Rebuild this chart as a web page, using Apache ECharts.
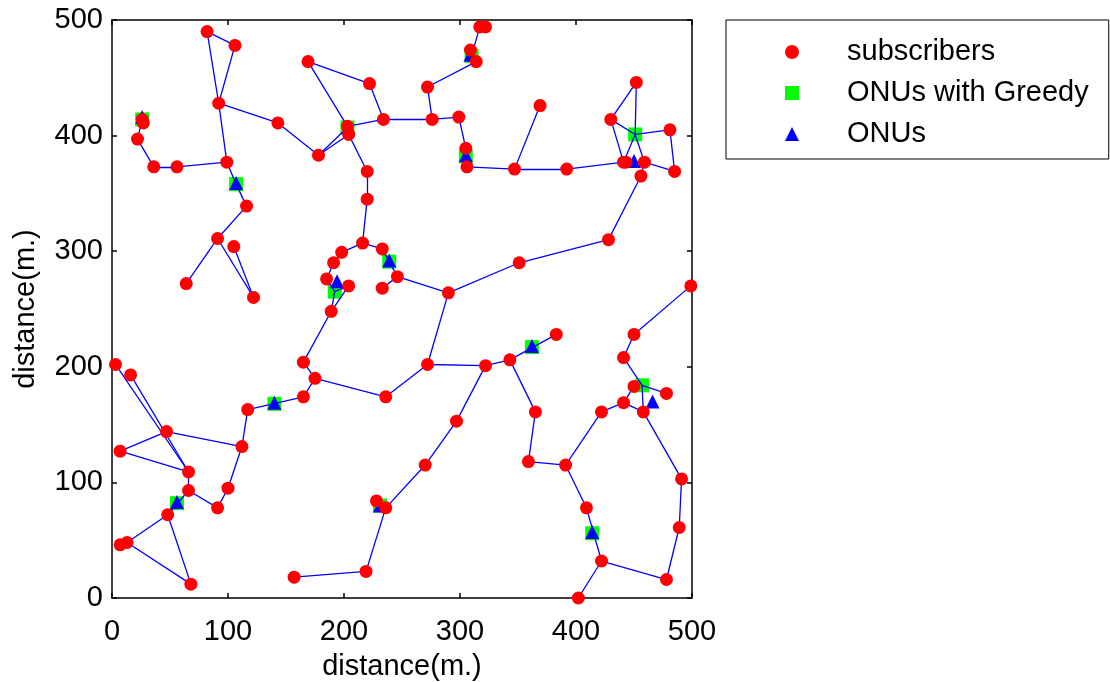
<!DOCTYPE html>
<html>
<head>
<meta charset="utf-8">
<script src="https://cdn.jsdelivr.net/npm/echarts@6/dist/echarts.min.js"></script>
<style>html,body{margin:0;background:#fff}#chart{width:1110px;height:682px}</style>
</head>
<body>
<div id="chart"></div>
<script>
"use strict";

const ticks = [0, 100, 200, 300, 400, 500];

const subscribers = [
  [82,490],[106,478],[92,428],[143,411],[26,414],[27,411],[22,397],[36,373],[56,373],[99,377],[116,339],
  [169,464],[222,445],[234,414],[203,408],[204,401],[178,383],[220,369],[220,345],[272,442],[276,414],
  [299,416],[305,389],[306,373],[309,474],[314,464],[317,494],[322,494],[369,426],[347,371],[392,371],
  [452,446],[430,414],[481,405],[441,377],[443,377],[459,377],[456,365],[485,369],[91,311],[105,304],
  [64,272],[122,260],[3,202],[16,193],[216,307],[233,302],[198,299],[191,290],[185,276],[204,270],
  [189,248],[246,278],[233,268],[290,264],[165,204],[175,190],[236,174],[272,202],[322,201],[165,174],
  [428,310],[351,290],[499,270],[383,228],[343,206],[450,228],[441,208],[450,183],[478,177],[441,169],
  [458,161],[365,161],[359,118],[391,115],[422,161],[491,103],[489,61],[478,16],[409,78],[422,32],
  [402,0],[297,153],[270,115],[228,84],[236,78],[219,23],[157,18],[47,144],[7,127],[66,109],[66,93],
  [48,72],[7,46],[13,48],[68,12],[91,78],[100,95],[112,131],[117,163]
];

const greedyOnus = [
  [26,414],[107,358],[203,407],[310,469],[305,382],[451,401],[192,265],[239,291],[362,217],[457,184],
  [56,82],[140,168],[231,80],[414,56]
];

const onus = [
  [26,416],[107,359],[204,407],[309,470],[305,383],[450,378],[194,274],[239,292],[362,218],[466,170],
  [56,83],[140,169],[231,80],[414,57]
];

// fibre links, x1, y1, x2, y2
const links = [
  [82,490,106,478],[82,490,92,428],[106,478,92,428],[92,428,143,411],[143,411,178,383],
  [92,428,99,377],[99,377,56,373],[56,373,36,373],[36,373,22,397],[22,397,26,414],
  [99,377,107,358],[107,358,116,339],[116,339,91,311],[91,311,64,272],[91,311,122,260],[105,304,122,260],
  [169,464,222,445],[169,464,203,408],[222,445,234,414],[203,408,234,414],[234,414,276,414],
  [276,414,272,442],[272,442,314,464],[310,469,317,494],[276,414,299,416],[299,416,305,389],
  [305,389,306,373],[306,373,347,371],[178,383,203,407],[178,383,204,401],[204,401,220,369],
  [220,369,220,345],[220,345,216,307],
  [369,426,347,371],[347,371,392,371],[392,371,441,377],[441,377,430,414],[430,414,452,446],
  [452,446,451,401],[430,414,451,401],[451,401,481,405],[481,405,485,369],[485,369,459,377],
  [451,401,441,377],[451,401,459,377],[459,377,456,365],[456,365,428,310],
  [428,310,351,290],[351,290,290,264],[290,264,246,278],[246,278,233,302],[233,302,216,307],
  [216,307,198,299],[198,299,191,290],[191,290,185,276],[246,278,233,268],[290,264,272,202],
  [272,202,322,201],[272,202,236,174],[236,174,175,190],[175,190,165,204],[175,190,165,174],
  [165,204,189,248],[189,248,192,265],[189,248,204,270],[192,265,185,276],[192,265,204,270],
  [499,270,450,228],[450,228,441,208],[441,208,457,184],[457,184,478,177],[457,184,458,161],
  [383,228,343,206],[343,206,322,201],[343,206,365,161],[365,161,359,118],[359,118,391,115],
  [391,115,422,161],[422,161,441,169],[441,169,450,183],[441,169,458,161],[458,161,491,103],
  [491,103,489,61],[489,61,478,16],[478,16,422,32],[422,32,402,0],[422,32,409,78],[409,78,391,115],
  [322,201,297,153],[297,153,270,115],[270,115,236,78],[236,78,219,23],[219,23,157,18],[228,84,236,78],
  [165,174,117,163],[117,163,112,131],[112,131,100,95],[100,95,91,78],[91,78,66,93],[66,93,66,109],
  [66,109,3,202],[66,109,16,193],[47,144,7,127],[47,144,112,131],[7,127,66,109],[66,93,48,72],
  [48,72,13,48],[13,48,68,12],[48,72,68,12]
];

const font = "'Liberation Sans', Arial, sans-serif";
const black = "#000";

function axis(kind, position, labels) {
  const a = {
    type: "value", position, min: ticks[0], max: ticks[ticks.length - 1], interval: 100,
    splitLine: { show: false },
    axisLine: { onZero: false, lineStyle: { color: black, width: 1.5 } },
    axisTick: { inside: true, length: 5, lineStyle: { color: black, width: 1.5 } },
    axisLabel: { show: labels, color: black, fontSize: 29, fontFamily: font, margin: kind === "x" ? 19 : 9 },
  };
  if (labels) {
    a.name = "distance(m.)";
    a.nameLocation = "middle";
    a.nameGap = kind === "x" ? 54 : 72;
    a.nameTextStyle = { color: black, fontSize: 29, fontFamily: font };
  }
  return a;
}

const chart = echarts.init(document.getElementById("chart"), null, { renderer: "canvas" });
chart.setOption({
  animation: false,
  backgroundColor: "#fff",
  grid: { left: 112, top: 20, width: 580, height: 578, containLabel: false, outerBoundsMode: "none" },
  xAxis: [axis("x", "bottom", true), axis("x", "top", false)],
  yAxis: [axis("y", "left", true), axis("y", "right", false)],
  legend: {
    data: ["subscribers", "ONUs with Greedy", "ONUs"],
    orient: "vertical", left: 726, top: 20,
    padding: [17, 20, 10, 59], itemWidth: 14, itemHeight: 14, itemGap: 11,
    borderColor: black, borderWidth: 1, backgroundColor: "#fff",
    textStyle: { color: black, fontSize: 29, fontFamily: font, lineHeight: 30, padding: [0, 0, 0, 43] },
  },
  series: [
    { name: "ONUs with Greedy", type: "scatter", symbol: "rect", symbolSize: 14, z: 2,
      itemStyle: { color: "#00ff00", opacity: 1 }, data: greedyOnus },
    { name: "ONUs", type: "scatter", symbol: "triangle", symbolSize: 14, z: 2,
      itemStyle: { color: "#0000ff", opacity: 1 }, data: onus },
    { type: "lines", coordinateSystem: "cartesian2d", z: 3, silent: true,
      lineStyle: { color: "#0000ff", width: 1.3, opacity: 1, curveness: 0 },
      data: links.map((l) => ({ coords: [[l[0], l[1]], [l[2], l[3]]] })) },
    { name: "subscribers", type: "scatter", symbol: "circle", symbolSize: 13, z: 4,
      itemStyle: { color: "#ff0000", opacity: 1 }, data: subscribers },
  ],
});
</script>
</body>
</html>
